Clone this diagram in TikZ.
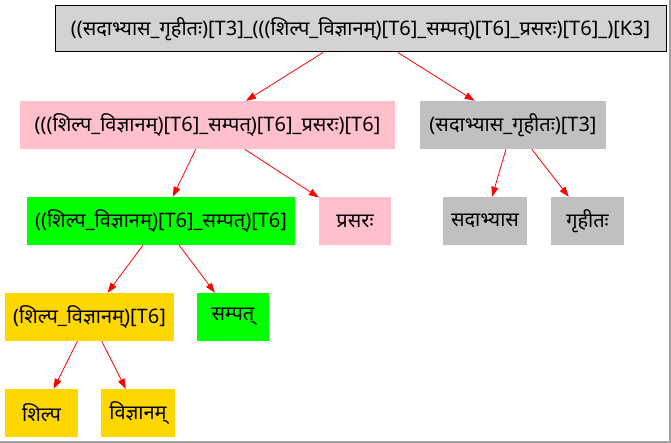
\documentclass[tikz,border=0pt]{standalone}
\usepackage{fontspec}
\setmainfont[Script=Devanagari]{Noto Sans}
\usetikzlibrary{arrows.meta}
\definecolor{rootgray}{HTML}{D3D3D3}
\definecolor{leafgray}{HTML}{C0C0C0}
\definecolor{pinkfill}{HTML}{FFC0CB}
\definecolor{greenfill}{HTML}{00FF00}
\definecolor{goldfill}{HTML}{FFD700}
\definecolor{framegray}{HTML}{A0A0A0}
\tikzset{
  box/.style={rectangle, inner sep=0pt, minimum height=48pt, font=\fontsize{20}{22}\selectfont},
  rootbox/.style={box, draw=black, line width=1pt, fill=rootgray, minimum height=46pt},
  graybox/.style={box, fill=leafgray},
  pinkbox/.style={box, fill=pinkfill},
  greenbox/.style={box, fill=greenfill},
  goldbox/.style={box, fill=goldfill},
  edge/.style={draw=red, line width=0.8pt, -{Triangle[length=10pt,width=7pt]}}
}
\begin{document}
\begin{tikzpicture}[x=1pt,y=-1pt]
\useasboundingbox (0,0) rectangle (671,443);
\fill[white] (0,0) rectangle (671,443);
% frame lines on the right and bottom
\draw[framegray, line width=2pt] (670,0) -- (670,442) -- (0,442);

\node[rootbox, minimum width=611pt] (root) at (360.5,29) {((सदाभ्यास\_गृहीतः)[T3]\_(((शिल्प\_विज्ञानम्)[T6]\_सम्पत्)[T6]\_प्रसरः)[T6]\_)[K3]};

\node[pinkbox, minimum width=375pt] (a) at (207.5,125) {(((शिल्प\_विज्ञानम्)[T6]\_सम्पत्)[T6]\_प्रसरः)[T6]};
\node[graybox, minimum width=186pt] (b) at (513,125) {(सदाभ्यास\_गृहीतः)[T3]};

\node[greenbox, minimum width=268pt] (c) at (161,221) {((शिल्प\_विज्ञानम्)[T6]\_सम्पत्)[T6]};
\node[pinkbox, minimum width=72pt] (d) at (355,221) {प्रसरः};
\node[graybox, minimum width=84pt] (e) at (485,221) {सदाभ्यास};
\node[graybox, minimum width=73pt] (f) at (587.5,221) {गृहीतः};

\node[goldbox, minimum width=169pt] (g) at (89.5,317) {(शिल्प\_विज्ञानम्)[T6]};
\node[greenbox, minimum width=72pt] (h) at (233,317) {सम्पत्};

\node[goldbox, minimum width=73pt] (i) at (41.5,413) {शिल्प};
\node[goldbox, minimum width=74pt] (j) at (138,413) {विज्ञानम्};

\draw[edge] (root) -- (a);
\draw[edge] (root) -- (b);
\draw[edge] (a) -- (c);
\draw[edge] (a) -- (d);
\draw[edge] (b) -- (e);
\draw[edge] (b) -- (f);
\draw[edge] (c) -- (g);
\draw[edge] (c) -- (h);
\draw[edge] (g) -- (i);
\draw[edge] (g) -- (j);
\end{tikzpicture}
\end{document}
